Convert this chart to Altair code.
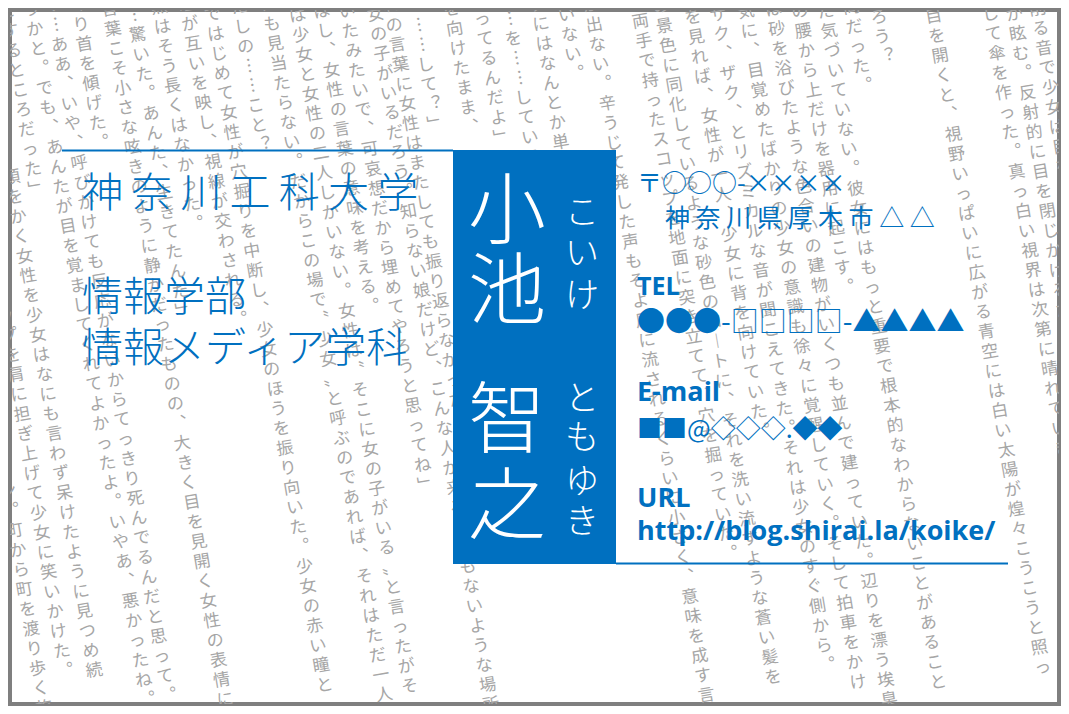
import pandas as pd
import altair as alt

# ── colours / fonts ──────────────────────────────────────────────────────────

BLUE  = "#0070C0"
GRAY  = "#A6A6A6"
WHITE = "#FFFFFF"
FRAME = "#7F7F7F"

JP    = "Noto Sans CJK JP"
LATIN = "Open Sans"

TILT      = 0.167   # background columns lean right (~9.5 deg)
COL_ANGLE = 350.5   # same lean, as a text angle

# ── background novel text: one string per vertical column ───────────────────

bg_text = [
    "リン。町から町を渡り歩く旅",
    "スコップを肩に担ぎ上げて少女に笑いかけた。",
    "頭をかく女性を少女はなにも言わず呆けたように見つめ続",
    "とするところだった」",
    "うかと。でも、あんたが目を覚ましてくれてよかったよ。いやあ、悪かったね。危",
    "……ああ、いや、呼びかけても反応がないからてっきり死んでるんだと思って。埋",
    "ゆっくり首を傾げた。",
    "言葉こそ小さな呟きのように静かだったものの、大きく目を見開く女性の表情に",
    "……驚いた。あんた、生きてたんだ」",
    "沈黙はそう長くはなかった。",
    "瞳が互いを映し、視線が交わされる。",
    "ではじめて女性が穴掘りを中断し、少女のほうを振り向いた。少女の赤い瞳と",
    "わたしの……こと？",
    "にも見当たらない。だからこの場で〝少女〟と呼ぶのであれば、それはただ一人",
    "は少女と女性の二人しかいない。女性は〝そこに女の子がいる〟と言ったがそ",
    "しばし、女性の言葉の意味を考える。",
    "いたみたいで、可哀想だから埋めてやろうと思ってね」",
    "女の子がいるだろう。知らない娘だけど、こんな人が来ることもないような場所",
    "れの言葉に女性はまたしても振り返らなかった。",
    "……して？」",
    "顔を向けたまま、",
    "知ってるんだよ」",
    "……を……している",
    "次にはなんとか単語を",
    "していない。",
    "声が出ない。辛うじて発した声もそよ風に流されるくらいに小さく、意味を成す言",
    "両手で持ったスコップを地面に突き立てて、穴を掘っていた。",
    "の景色に同化しているような砂色のコートに、それを洗い流すような蒼い髪を",
    "を見れば、女性が一人、少女に背を向けていた。",
    "ザク、ザク、とリズミカルな音が聞こえてきた。それは少女のすぐ側から。",
    "気に、目覚めたばかりの少女の意識も徐々に覚醒していく。そして拍車をかけ",
    "は砂を浴びたような色合いの建物がいくつも並んで建っていた。辺りを漂う埃臭",
    "の腰から上だけを器用に起こす。",
    "だ気づいていない。彼女にはもっと重要で根本的なわからないことがあること",
    "疑問だった。",
    "だろう？",
    "目を開くと、視野いっぱいに広がる青空には白い太陽が煌々こうこうと照っ",
    "ざして傘を作った。真っ白い視界は次第に晴れていき、",
    "目が眩む。反射的に目を閉じかけるたび",
    "土を削る音で少女は目を",
]
# where each column crosses the top edge, and the centre height of its first glyph
bg_x0 = [-74, -47, -18, 5, 30, 52, 77, 108, 132, 158, 186, 210, 238, 268, 295,
         320, 345, 373, 390, 415, 450, 479, 507, 537, 564, 590, 637, 660, 690,
         716, 744, 772, 798, 824, 850, 876, 931, 988, 1012, 1036]
bg_y0 = [472, 277, 178, 12, 10, 6, -34, 10, -4, -12, 5, 15, -12, 5, 16,
         -8, 12, 15, 6, 26, -10, 0, 0, 5, -24, -14, 22, 7, 18,
         15, 12, 10, 12, 12, -12, -2, 17, -5, -5, -30]

# ── card text ────────────────────────────────────────────────────────────────

school_lines = ["神奈川工科大学", "情報学部", "情報メディア学科"]
name_kanji   = ["小", "池", "智", "之"]
name_kana    = list("こいけ") + list("ともゆき")
contact_jp   = ["〒○○○-××××", "神奈川県厚木市△△", "●●●-□□□□-▲▲▲▲", "■■@◇◇◇.◆◆"]
contact_en   = ["TEL", "E-mail", "URL", "http://blog.shirai.la/koike/"]

# ── layout ───────────────────────────────────────────────────────────────────

school_x, school_y, school_gap = [82, 82, 82], [195, 299, 350], ["\u2009", "", ""]
kanji_x, kanji_y = [507, 507, 507, 507], [215, 295, 424, 510]
kana_x = [582] * 7
kana_y = [214, 255, 297, 400, 439, 483, 523]
cjp_x, cjp_y, cjp_size = [637, 665, 637, 637], [184, 219, 324, 430], [25, 25, 28, 25]
cjp_gap = ["", " ", "", ""]
cen_x, cen_y, cen_size = [637, 637, 637, 637], [295, 401, 507, 540], [25, 27, 27, 27]

box = pd.DataFrame({"x": [453], "x2": [616], "y": [150], "y2": [564]})
rules = pd.DataFrame({"x": [62, 616], "x2": [453, 1008], "y": [150.5, 563.5]})

VERTICAL = {"、": "︑", "。": "︒", "「": "﹁", "」": "﹂", "…": "︙",
            "？": "︖", "ー": "︱"}


def to_vertical(s):
    return "\n".join(VERTICAL.get(c, c) for c in s)


XS = alt.Scale(domain=[10, 1059], nice=False, zero=False)
YS = alt.Scale(domain=[10, 704], nice=False, zero=False, reverse=True)


def xy(chart, x="x", y="y", **extra):
    return chart.encode(
        x=alt.X(f"{x}:Q", scale=XS, axis=None),
        y=alt.Y(f"{y}:Q", scale=YS, axis=None),
        **extra,
    )


bg = pd.DataFrame({
    "text": [to_vertical(t) for t in bg_text],
    "y": [y - 8 for y in bg_y0],
})
bg["x"] = [x0 + TILT * y for x0, y in zip(bg_x0, bg["y"])]

background = xy(
    alt.Chart(bg).mark_text(
        font=JP, fontSize=17, lineBreak="\n", lineHeight=20, angle=COL_ANGLE,
        align="center", baseline="top", color=GRAY, clip=True,
    ),
    text="text:N",
)

blue_box = alt.Chart(box).mark_rect(color=BLUE).encode(
    x=alt.X("x:Q", scale=XS, axis=None), x2="x2:Q",
    y=alt.Y("y:Q", scale=YS, axis=None), y2="y2:Q",
)

lines = alt.Chart(rules).mark_rule(color=BLUE, strokeWidth=2).encode(
    x=alt.X("x:Q", scale=XS, axis=None), x2="x2:Q",
    y=alt.Y("y:Q", scale=YS, axis=None),
)

school = xy(
    alt.Chart(pd.DataFrame({
        "text": [g.join(s) for g, s in zip(school_gap, school_lines)],
        "x": school_x, "y": school_y,
    })).mark_text(font=JP, fontSize=41, fontWeight=300, align="left",
                  baseline="middle", color=BLUE),
    text="text:N",
)

kanji = xy(
    alt.Chart(pd.DataFrame({"text": name_kanji, "x": kanji_x, "y": kanji_y}))
    .mark_text(font=JP, fontSize=78, fontWeight=300, align="center",
               baseline="middle", color=WHITE),
    text="text:N",
)

kana = xy(
    alt.Chart(pd.DataFrame({"text": name_kana, "x": kana_x, "y": kana_y}))
    .mark_text(font=JP, fontSize=34, fontWeight=300, align="center",
               baseline="middle", color=WHITE),
    text="text:N",
)

contact_a = xy(
    alt.Chart(pd.DataFrame({
        "text": [g.join(s) for g, s in zip(cjp_gap, contact_jp)],
        "x": cjp_x, "y": cjp_y, "fs": cjp_size,
    })).mark_text(font=JP, align="left", baseline="middle", color=BLUE),
    text="text:N",
    size=alt.Size("fs:Q", scale=None, legend=None),
)

contact_b = xy(
    alt.Chart(pd.DataFrame({
        "text": contact_en, "x": cen_x, "y": cen_y, "fs": cen_size,
    })).mark_text(font=LATIN, fontWeight="bold", align="left",
                  baseline="alphabetic", color=BLUE),
    text="text:N",
    size=alt.Size("fs:Q", scale=None, legend=None),
)

chart = (
    alt.layer(background, blue_box, lines, school, kanji, kana, contact_a, contact_b)
    .properties(
        width=1049, height=694, padding=2,
        autosize=alt.AutoSizeParams(type="none"),
        background=WHITE,
    )
    .configure_view(stroke=FRAME, strokeWidth=4)
)

chart.save("out.html", embed_options={"renderer": "svg", "actions": False})
